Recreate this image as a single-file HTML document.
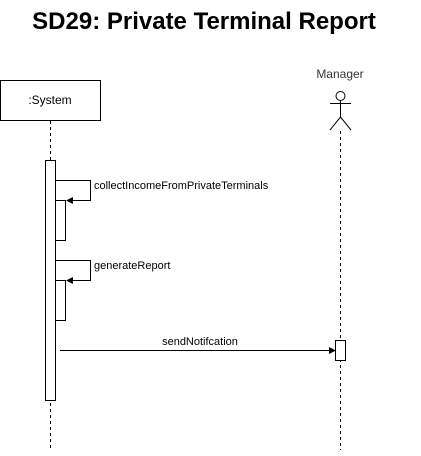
<!DOCTYPE html>
<html><head><style>body{margin:0;background:#fff;width:421px;height:451px;overflow:hidden}</style></head><body>
<svg width="421" height="451" xmlns="http://www.w3.org/2000/svg" font-family="Liberation Sans, sans-serif">
<text x="204" y="29" text-anchor="middle" font-size="24" font-weight="bold">SD29: Private Terminal Report</text>
<rect x="0.5" y="80.5" width="100" height="40" fill="#fff" stroke="#000"/>
<text x="50" y="104" text-anchor="middle" font-size="12">:System</text>
<line x1="50.5" y1="121" x2="50.5" y2="450" stroke="#000" stroke-dasharray="3,3"/>
<rect x="45.5" y="160.5" width="10" height="240" fill="#fff" stroke="#000"/>
<rect x="55.5" y="200.5" width="10" height="40" fill="#fff" stroke="#000"/>
<rect x="55.5" y="280.5" width="10" height="40" fill="#fff" stroke="#000"/>
<polyline points="55,180.5 90.5,180.5 90.5,200.5 72,200.5" fill="none" stroke="#000"/>
<polygon points="66,200.5 73,197 73,204" fill="#000"/>
<text x="94" y="189" font-size="11">collectIncomeFromPrivateTerminals</text>
<polyline points="55,260.5 90.5,260.5 90.5,280.5 72,280.5" fill="none" stroke="#000"/>
<polygon points="66,280.5 73,277 73,284" fill="#000"/>
<text x="94" y="269" font-size="11">generateReport</text>
<text x="340" y="78" text-anchor="middle" font-size="12" fill="#333">Manager</text>
<circle cx="340.5" cy="96" r="4.5" fill="#fff" stroke="#000"/>
<line x1="340.5" y1="100" x2="340.5" y2="117" stroke="#000"/>
<line x1="330" y1="103.5" x2="351" y2="103.5" stroke="#000"/>
<line x1="340.5" y1="117" x2="330" y2="130" stroke="#000"/>
<line x1="340.5" y1="117" x2="351" y2="130" stroke="#000"/>
<line x1="340.5" y1="131" x2="340.5" y2="450" stroke="#000" stroke-dasharray="3,3"/>
<rect x="335.5" y="340.5" width="10" height="20" fill="#fff" stroke="#000"/>
<line x1="60" y1="350.5" x2="330" y2="350.5" stroke="#000"/>
<polygon points="336,350.5 329,347 329,354" fill="#000"/>
<text x="200" y="345" text-anchor="middle" font-size="11">sendNotifcation</text>
</svg>
</body></html>
